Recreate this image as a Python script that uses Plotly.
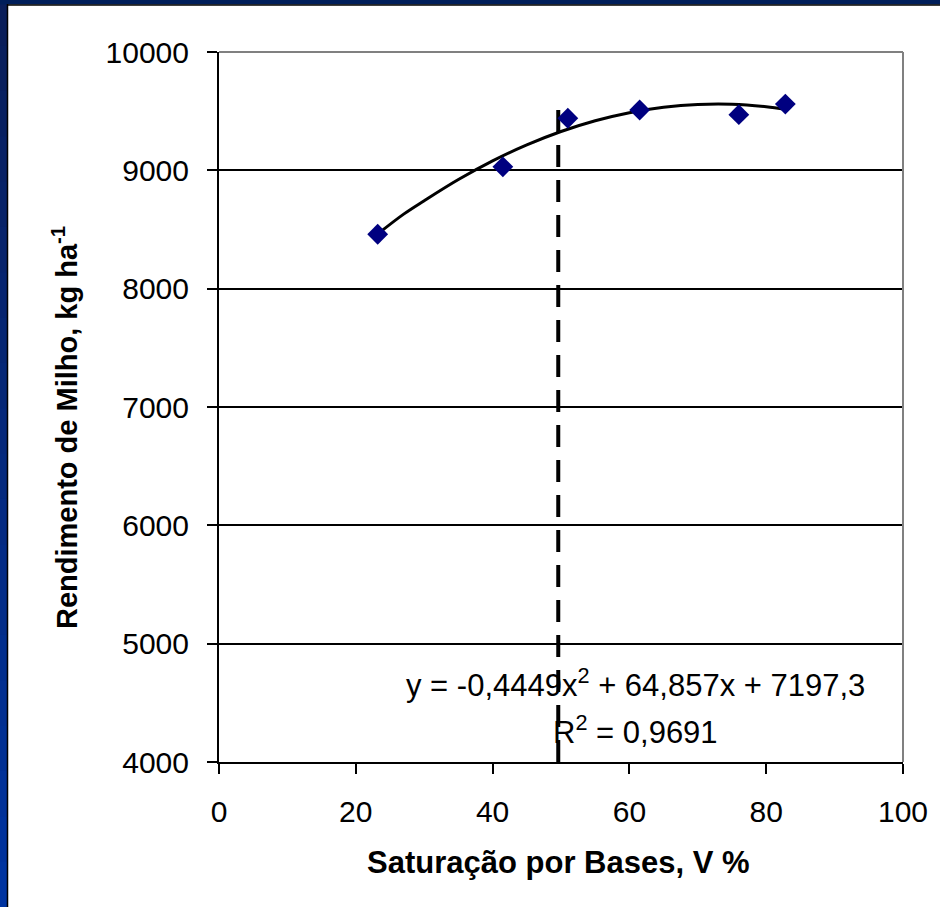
import plotly.graph_objects as go

# Data
v_sat = [23.2, 41.5, 51.0, 61.5, 76.0, 82.8]
yield_kg = [8460, 9030, 9440, 9510, 9470, 9560]

# Trendline points
trend_x = [23.2, 27, 30, 35, 40, 45, 50, 55, 60, 65, 70, 75, 80, 82.8]
trend_y = [8462, 8630, 8743, 8922, 9080, 9215, 9328, 9419, 9487, 9533, 9557, 9559, 9538, 9517]

# Vertical dashed reference line
ref_x = [49.6, 49.6]
ref_y = [4000, 9600]

x_ticks = [0, 20, 40, 60, 80, 100]
y_ticks = [4000, 5000, 6000, 7000, 8000, 9000, 10000]

W, H = 940, 907
L, R, T, B = 219, 37, 52, 145
pw, ph = W - L - R, H - T - B

FONT = "Arial, Liberation Sans, sans-serif"

fig = go.Figure()
fig.add_trace(go.Scatter(x=ref_x, y=ref_y, mode="lines",
                         line=dict(color="black", width=4, dash="22px,13px"),
                         showlegend=False, hoverinfo="skip"))
fig.add_trace(go.Scatter(x=trend_x, y=trend_y, mode="lines",
                         line=dict(color="black", width=3, shape="spline"),
                         showlegend=False))
fig.add_trace(go.Scatter(x=v_sat, y=yield_kg, mode="markers",
                         marker=dict(symbol="diamond", size=16, color="#000080",
                                     line=dict(width=0)),
                         showlegend=False))

def px_x(p):
    return (p - L) / pw

def px_y(p):
    return (H - B - p) / ph

shapes = []
# plot-area border (gray top/right)
shapes.append(dict(type="line", xref="paper", yref="paper", x0=0, x1=1, y0=1, y1=1,
                   line=dict(color="#808080", width=2)))
shapes.append(dict(type="line", xref="paper", yref="paper", x0=1, x1=1, y0=0, y1=1,
                   line=dict(color="#808080", width=2)))
# blue frame, left side gradient
n = 20
top_c = (10, 30, 90)
bot_c = (0, 52, 160)
for i in range(n):
    f = i / (n - 1)
    c = tuple(int(top_c[k] + (bot_c[k] - top_c[k]) * f) for k in range(3))
    shapes.append(dict(type="rect", xref="paper", yref="paper", layer="above",
                       x0=px_x(0), x1=px_x(7),
                       y0=px_y(H * (i + 1) / n + 1), y1=px_y(H * i / n),
                       fillcolor="rgb(%d,%d,%d)" % c, line=dict(width=0)))
shapes.append(dict(type="rect", xref="paper", yref="paper", layer="above",
                   x0=px_x(0), x1=px_x(W), y0=px_y(4.5), y1=px_y(0),
                   fillcolor="rgb(0,30,90)", line=dict(width=0)))
shapes.append(dict(type="line", xref="paper", yref="paper", layer="above",
                   x0=px_x(7.5), x1=px_x(7.5), y0=px_y(H), y1=px_y(4),
                   line=dict(color="black", width=1.5)))
shapes.append(dict(type="line", xref="paper", yref="paper", layer="above",
                   x0=px_x(7), x1=px_x(W), y0=px_y(5), y1=px_y(5),
                   line=dict(color="black", width=1.5)))

annotations = [
    dict(text="y = -0,4449x<sup>2</sup> + 64,857x + 7197,3", x=px_x(635), y=px_y(683),
         xref="paper", yref="paper", showarrow=False, xanchor="center", yanchor="middle",
         font=dict(family=FONT, size=31, color="black")),
    dict(text="R<sup>2</sup> = 0,9691", x=px_x(635), y=px_y(730),
         xref="paper", yref="paper", showarrow=False, xanchor="center", yanchor="middle",
         font=dict(family=FONT, size=31, color="black")),
    dict(text="<b>Rendimento de Milho, kg ha<sup>-1</sup></b>", x=px_x(65), y=px_y(428),
         xref="paper", yref="paper", showarrow=False, textangle=-90,
         xanchor="center", yanchor="middle",
         font=dict(family=FONT, size=29, color="black")),
    dict(text="<b>Saturação por Bases, V %</b>", x=px_x(558), y=px_y(862),
         xref="paper", yref="paper", showarrow=False, xanchor="center", yanchor="middle",
         font=dict(family=FONT, size=31, color="black")),
]

fig.update_layout(
    width=W, height=H,
    margin=dict(l=L, r=R, t=T, b=B, pad=0),
    paper_bgcolor="white", plot_bgcolor="white",
    xaxis=dict(range=[0, 100], tickvals=x_ticks, ticktext=[str(v) for v in x_ticks],
               showgrid=False, zeroline=False, showline=True, linecolor="black",
               linewidth=2, ticks="outside", ticklen=10, tickwidth=1.5, tickcolor="black",
               tickfont=dict(family=FONT, size=30, color="black"), ticklabelstandoff=12),
    yaxis=dict(range=[4000, 10000], tickvals=y_ticks, ticktext=[str(v) for v in y_ticks],
               showgrid=True, gridcolor="black", gridwidth=1.5, zeroline=False,
               showline=True, linecolor="black", linewidth=2, ticks="outside",
               ticklen=10, tickwidth=1.5, tickcolor="black",
               tickfont=dict(family=FONT, size=30, color="black"), ticklabelstandoff=12),
    shapes=shapes,
    annotations=annotations,
)

fig.write_html("out.html", config={"displayModeBar": False},
               post_script="document.body.style.margin='0px';document.body.style.overflow='hidden';")
